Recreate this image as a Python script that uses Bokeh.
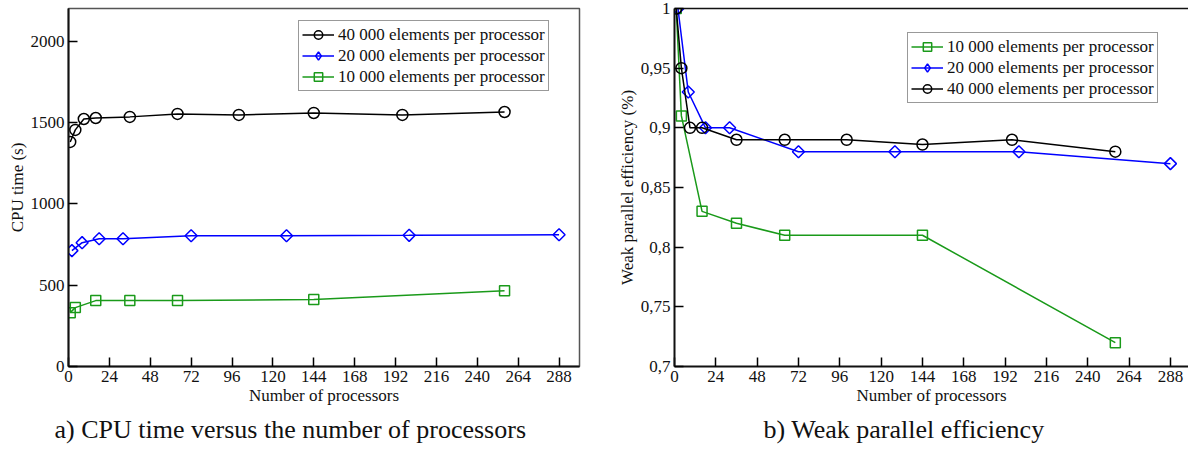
from bokeh.plotting import figure
from bokeh.layouts import row
from bokeh.models import Range1d, FixedTicker, CustomJSTickFormatter, Title, LinearAxis, LegendItem, Legend
from bokeh.embed import file_html
from bokeh.resources import INLINE
import math

FONT = "Liberation Serif"

# ---------------- data ----------------
procs_40k = [1, 4, 9, 16, 36, 64, 100, 144, 196, 256]
procs_20k = [2, 8, 18, 32, 72, 128, 200, 288]
procs_10k = [1, 4, 16, 36, 64, 144, 256]

cpu_40k = [1380, 1454, 1521, 1527, 1534, 1552, 1546, 1558, 1546, 1564]
cpu_20k = [712, 761, 785, 785, 804, 804, 806, 810]
cpu_10k = [331, 362, 405, 405, 405, 411, 466]

eff_10k = [1.0, 0.91, 0.83, 0.82, 0.81, 0.81, 0.72]
eff_20k = [1.0, 0.93, 0.90, 0.90, 0.88, 0.88, 0.88, 0.87]
eff_40k = [1.0, 0.95, 0.90, 0.90, 0.89, 0.89, 0.89, 0.886, 0.89, 0.88]

x_ticks = [0, 24, 48, 72, 96, 120, 144, 168, 192, 216, 240, 264, 288]
cpu_ticks = [0, 500, 1000, 1500, 2000]
eff_ticks = [0.7, 0.75, 0.8, 0.85, 0.9, 0.95, 1.0]

label_40k = "40 000 elements per processor"
label_20k = "20 000 elements per processor"
label_10k = "10 000 elements per processor"

BLACK = "#000000"
BLUE = "#0000ff"
GREEN = "#1a9a1a"
ROT = math.pi / 4


def style_axes(p):
    p.xgrid.visible = False
    p.ygrid.visible = False
    for ax in (p.xaxis[0], p.yaxis[0]):
        ax.axis_line_width = 2
        ax.axis_line_color = "#111111"
        ax.major_tick_in = 9
        ax.major_tick_out = 0
        ax.major_tick_line_width = 1.5
        ax.minor_tick_line_color = None
        ax.major_label_text_font = FONT
        ax.major_label_text_font_size = "17px"
        ax.major_label_text_color = "#111111"
        ax.major_label_standoff = 4
        ax.axis_label_text_font = FONT
        ax.axis_label_text_font_size = "17px"
        ax.axis_label_text_font_style = "normal"
        ax.axis_label_text_color = "#111111"
        ax.axis_label_standoff = 1


def add_series(p, xs, ys, color, marker, size, label, diamond=False):
    ln = p.line(xs, ys, line_color=color, line_width=1.5)
    if diamond:
        p.scatter(xs, ys, marker="square", size=size, angle=ROT, line_color=color,
                  line_width=1.5, fill_color=None)
        # legend-only glyph (markers in legends are drawn unrotated)
        lg_sc = p.scatter(xs, ys, marker="diamond", size=size, line_color=color,
                          line_width=1.5, fill_color=None, visible=False)
        return LegendItem(label=label, renderers=[ln, lg_sc])
    sc = p.scatter(xs, ys, marker=marker, size=size, line_color=color, line_width=1.5,
                   fill_color=None)
    return LegendItem(label=label, renderers=[ln, sc])


def add_legend(p, items, loc):
    lg = Legend(items=items, location=loc)
    lg.margin = 0
    lg.padding = 3
    lg.spacing = 0
    lg.glyph_width = 32
    lg.glyph_height = 21
    lg.label_height = 21
    lg.label_standoff = 4
    lg.label_text_font = FONT
    lg.label_text_font_size = "17px"
    lg.label_text_color = "#111111"
    lg.border_line_color = "#333333"
    lg.border_line_width = 1
    lg.background_fill_alpha = 1.0
    p.add_layout(lg, "center")


# ---------------- left: CPU time ----------------
p1 = figure(width=598, height=450, x_range=Range1d(0, 300), y_range=Range1d(0, 2200),
            output_backend="svg", toolbar_location=None,
            min_border_left=68, min_border_right=19, min_border_top=6, min_border_bottom=84,
            x_axis_label="Number of processors", y_axis_label="CPU time (s)")
style_axes(p1)
p1.outline_line_color = "#555555"
p1.outline_line_width = 1.5
p1.xaxis.ticker = FixedTicker(ticks=x_ticks)
p1.yaxis.ticker = FixedTicker(ticks=cpu_ticks)

i40 = add_series(p1, procs_40k, cpu_40k, BLACK, "circle", 11, label_40k)
i20 = add_series(p1, procs_20k, cpu_20k, BLUE, "square", 8.5, label_20k, diamond=True)
i10 = add_series(p1, procs_10k, cpu_10k, GREEN, "square", 10, label_10k)
add_legend(p1, [i40, i20, i10], (230, 275))

p1.add_layout(Title(text="a) CPU time versus the number of processors", align="left", offset=-14,
                    text_font=FONT, text_font_size="26px", text_font_style="normal",
                    text_color="#111111", standoff=10), "below")

# ---------------- right: weak efficiency ----------------
p2 = figure(width=590, height=450, x_range=Range1d(0, 298.5), y_range=Range1d(0.7, 1.0),
            output_backend="svg", toolbar_location=None,
            min_border_left=76, min_border_right=0, min_border_top=8, min_border_bottom=84,
            x_axis_label="Number of processors", y_axis_label="Weak parallel efficiency (%)")
style_axes(p2)
p2.outline_line_color = None
p2.xaxis.ticker = FixedTicker(ticks=x_ticks)
p2.yaxis.ticker = FixedTicker(ticks=eff_ticks)
p2.yaxis.formatter = CustomJSTickFormatter(
    code="var s = (Math.round(tick*100)/100).toString(); return s.replace('.', ',');")

top_axis = LinearAxis(ticker=FixedTicker(ticks=[]), major_tick_line_color=None,
                      minor_tick_line_color=None, major_label_text_color=None,
                      axis_line_color="#111111", axis_line_width=1.5)
p2.add_layout(top_axis, "above")

j10 = add_series(p2, procs_10k, eff_10k, GREEN, "square", 10, label_10k)
j20 = add_series(p2, procs_20k, eff_20k, BLUE, "square", 8.5, label_20k, diamond=True)
j40 = add_series(p2, procs_40k, eff_40k, BLACK, "circle", 11, label_40k)
add_legend(p2, [j10, j20, j40], (233, 263))

p2.add_layout(Title(text="b) Weak parallel efficiency", align="left", offset=89,
                    text_font=FONT, text_font_size="26px", text_font_style="normal",
                    text_color="#111111", standoff=10), "below")

layout = row(p1, p2)
open("out.html", "w").write(file_html(layout, INLINE))
